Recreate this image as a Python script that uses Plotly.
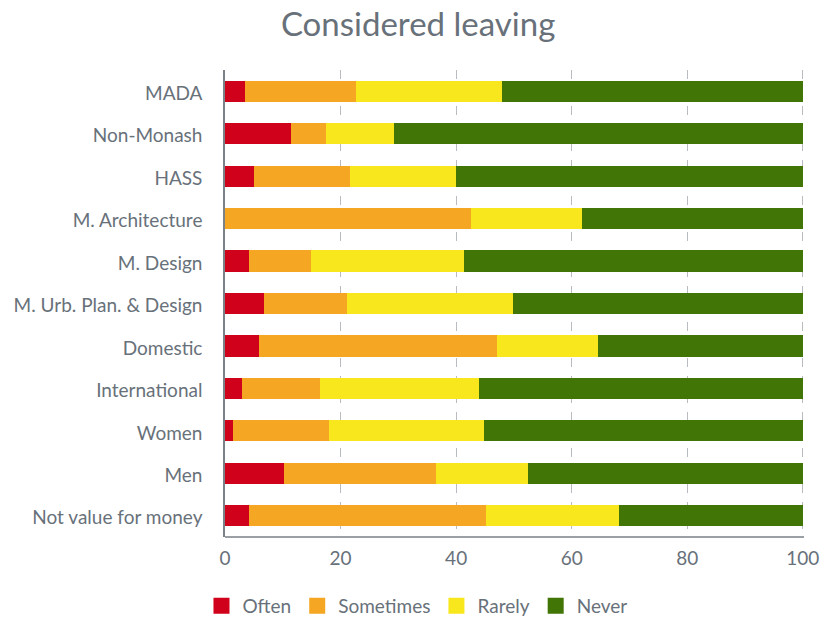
import plotly.graph_objects as go

categories = [
    "MADA", "Non-Monash", "HASS", "M. Architecture", "M. Design",
    "M. Urb. Plan. & Design", "Domestic", "International", "Women", "Men",
    "Not value for money",
]

often = [3.5, 11.5, 5.0, 0.0, 4.2, 6.8, 5.8, 2.9, 1.4, 10.2, 4.2]
sometimes = [19.2, 6.0, 16.7, 42.6, 10.7, 14.3, 41.2, 13.6, 16.6, 26.3, 41.0]
rarely = [25.3, 11.8, 18.2, 19.2, 26.4, 28.8, 17.5, 27.4, 26.9, 16.0, 22.9]
never = [52.0, 70.7, 60.1, 38.2, 58.7, 50.1, 35.5, 56.1, 55.1, 47.5, 31.9]

series = [
    ("Often", often, "#d0021b"),
    ("Sometimes", sometimes, "#f5a623"),
    ("Rarely", rarely, "#f8e71c"),
    ("Never", never, "#417505"),
]

x_ticks = [0, 20, 40, 60, 80, 100]

font_family = "Lato, 'Open Sans', sans-serif"
text_color = "#68717a"

fig = go.Figure()

for name, values, color in series:
    fig.add_trace(go.Bar(
        y=categories, x=values, name=name, orientation="h",
        marker=dict(color=color, line=dict(width=0)),
        showlegend=False,
    ))

# Legend entries drawn as square markers
for name, values, color in series:
    fig.add_trace(go.Scatter(
        x=[None], y=[None], mode="markers", name=name,
        marker=dict(symbol="square", size=18, color=color),
        showlegend=True,
    ))

fig.update_layout(
    barmode="stack",
    bargap=0.5,
    width=828, height=618,
    margin=dict(l=225, r=24, t=70, b=81),
    paper_bgcolor="white",
    plot_bgcolor="white",
    font=dict(family=font_family, color=text_color, size=19),
    title=dict(
        text="Considered leaving",
        x=0.505, xref="container", xanchor="center",
        y=1 - 24 / 618, yref="container", yanchor="middle",
        font=dict(size=33, color=text_color, family=font_family),
    ),
    legend=dict(
        orientation="h",
        traceorder="normal",
        x=0.503, xref="container", xanchor="center",
        y=1 - 606 / 618, yref="container", yanchor="middle",
        font=dict(size=19, color=text_color),
        itemsizing="trace",
        itemwidth=32,
        tracegroupgap=0,
    ),
    xaxis=dict(
        range=[0, 100.2],
        tickvals=x_ticks,
        automargin=False,
        showgrid=True, gridcolor="#b8bcc0", griddash="dash", gridwidth=1.2,
        zeroline=False,
        showline=False,
        ticks="",
        tickfont=dict(size=19, color=text_color),
        ticklabelstandoff=8,
    ),
    yaxis=dict(
        categoryorder="array",
        categoryarray=categories,
        autorange="reversed",
        automargin=False,
        showgrid=False,
        showline=True, linecolor="#7a8188", linewidth=1.5,
        ticks="",
        tickfont=dict(size=19, color=text_color),
        ticklabelstandoff=17,
        ticklabelshift=-2,
    ),
)

# solid baseline along the bottom edge
fig.add_shape(
    type="line", xref="paper", yref="paper",
    x0=0, x1=1, y0=0, y1=0,
    line=dict(color="#7a8188", width=1.5),
)

fig.write_html("out.html")
